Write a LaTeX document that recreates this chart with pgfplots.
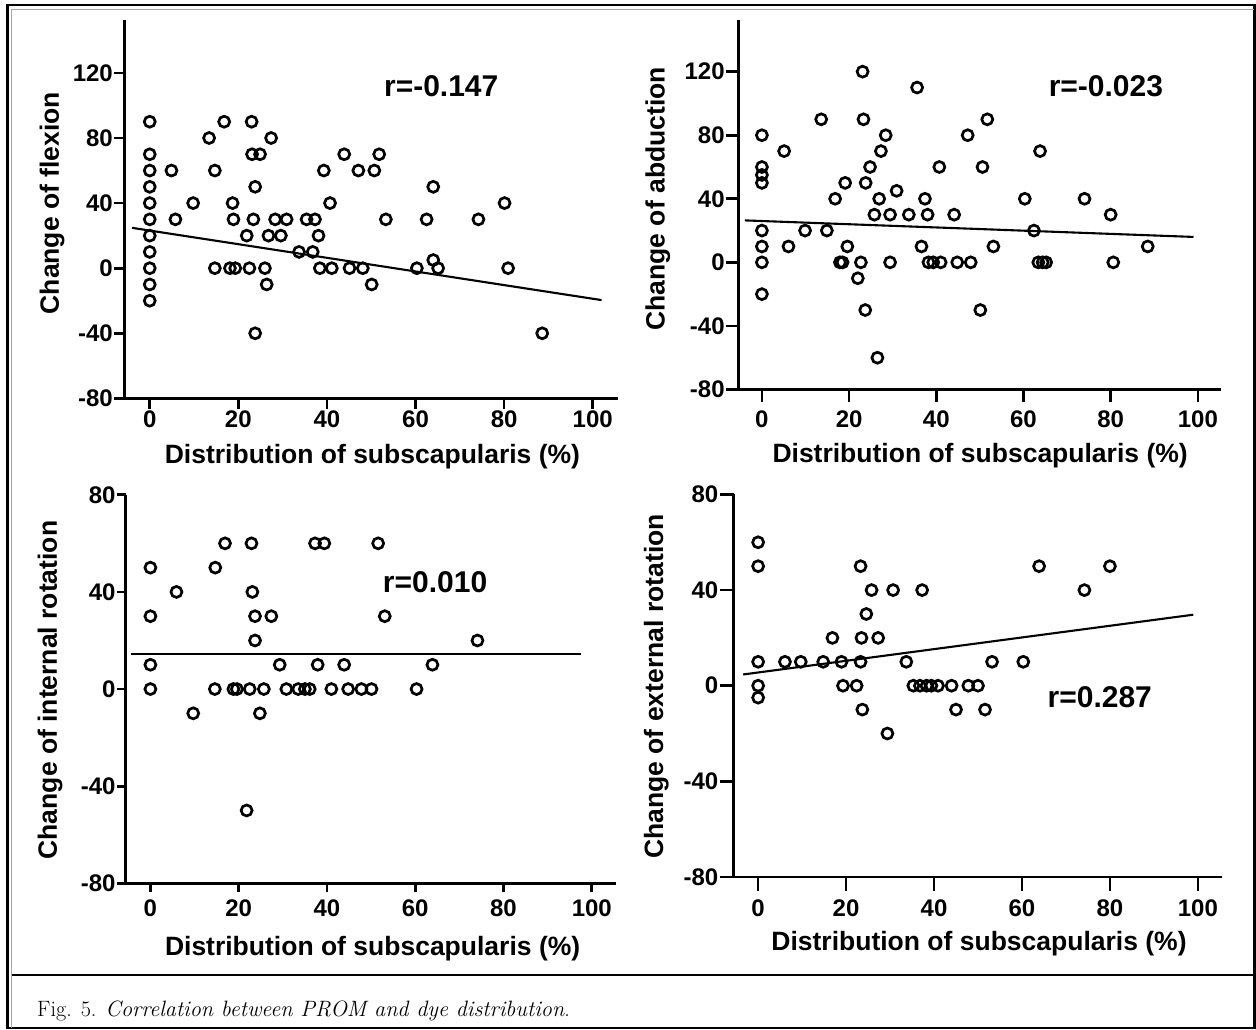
\documentclass[border=0pt]{standalone}
\usepackage{fontspec}
\usepackage{pgfplots}
\pgfplotsset{compat=1.18}
\newfontfamily\arial{Liberation Sans}
\newcommand{\labfont}{\arial\bfseries\fontsize{26.5}{28}\selectfont}
\pgfplotsset{
  prism/.style={
    scale only axis, anchor=south west, clip=false,
    axis lines=left,
    axis line style={line width=2.7pt,-,black},
    every tick/.style={line width=2.7pt,black},
    tick align=outside,
    xtick={0,20,40,60,80,100}, xticklabels={0,20,40,60,80,100},
    tick label style={font=\arial\bfseries\fontsize{24}{24}\selectfont},
    yticklabel style={inner sep=1pt},
    xticklabel style={inner sep=0pt},
    xlabel={Distribution of subscapularis (\%)},
  },
  pts/.style={only marks, mark=o, mark size=5.5pt, mark options={line width=2.7pt, black}},
  reg/.style={no marks, black, line width=2.1pt},
}
\tikzset{rtext/.style={font=\arial\bfseries\fontsize{30}{30}\selectfont, anchor=center}}
\begin{document}
\begin{tikzpicture}[x=1pt,y=1pt]
\useasboundingbox (0,0) rectangle (1256,1029);
% frame
\draw[black, line width=2.4pt] (7.3,1.3) rectangle (1254.3,1024);
\draw[gray!70, line width=1.4pt] (11.7,1.3) -- (11.7,1019.7) -- (1254.3,1019.7);
\draw[black, line width=2.8pt] (11.7,54) -- (1254.3,54);
\node[anchor=base west, inner sep=0pt, font=\fontsize{22.2}{22.2}\selectfont] at (37,12.3) {Fig. 5. \textit{Correlation between PROM and dye distribution}.};

% Panel 1
\begin{axis}[prism, at={(124.5pt,630.6pt)}, width=493.9pt, height=378.4pt,
  xmin=-5.7, xmax=105.8, ymin=-80, ymax=152.5,
  ytick={-80,-40,0,40,80,120}, yticklabels={-80,-40,0,40,80,120},
  major tick length=10.5pt,
  xticklabel style={yshift=-2pt},
  ylabel={Change of flexion},
  every axis y label/.style={at={(axis description cs:-0.1468,0.516)}, rotate=90, anchor=center, font=\labfont},
  every axis x label/.style={at={(axis description cs:0.502,0)}, anchor=base, yshift=-65.3pt, font=\labfont},
]
\addplot[pts] coordinates {
(0,90)(0,70)(0,60)(0,50)(0,40)(0,30)(0,20)(0,10)(0,0)(0,-10)(0,-20)
(16.8,90)(23.0,90)(13.4,80)(27.4,80)(23.1,70)(24.9,70)(43.9,70)(51.8,70)
(4.9,60)(14.7,60)(39.3,60)(47.1,60)(50.7,60)(23.8,50)(64.0,50)
(9.8,40)(18.7,40)(40.7,40)(80.1,40)
(5.8,30)(18.9,30)(23.4,30)(28.3,30)(30.9,30)(35.4,30)(37.3,30)(53.3,30)(62.5,30)(74.2,30)
(21.9,20)(26.8,20)(29.6,20)(38.1,20)
(33.7,10)(36.8,10)(64.0,5)
(14.7,0)(18.1,0)(19.3,0)(22.5,0)(26.0,0)(38.4,0)(41.1,0)(45.1,0)(48.1,0)(60.3,0)(65.1,0)(80.9,0)
(26.4,-10)(50.1,-10)(23.8,-40)(88.6,-40)
};
\addplot[reg] coordinates {(-4,24.8)(102,-19.6)};
\node[rtext] at (axis cs:65.8,111.8) {r=-0.147};
\end{axis}

% Panel 2
\begin{axis}[prism, at={(738.8pt,639.5pt)}, width=482.6pt, height=369.5pt,
  xmin=-5.3, xmax=105.4, ymin=-80, ymax=152.5,
  ytick={-80,-40,0,40,80,120}, yticklabels={-80,-40,0,40,80,120},
  major tick length=13pt,
  xticklabel style={yshift=-8pt},
  ylabel={Change of abduction},
  every axis y label/.style={at={(axis description cs:-0.168,0.516)}, rotate=90, anchor=center, font=\labfont},
  every axis x label/.style={at={(axis description cs:0.5,0)}, anchor=base, yshift=-73.2pt, font=\labfont},
]
\addplot[pts] coordinates {
(23.1,120)(35.6,110)(13.6,90)(23.3,90)(51.7,90)(0,80)(28.4,80)(47.2,80)
(5.1,70)(27.3,70)(63.8,70)(0,60)(24.8,60)(40.7,60)(50.6,60)(0,55)(0,50)(19.1,50)(23.8,50)
(30.9,45)(16.8,40)(26.9,40)(37.4,40)(60.3,40)(74.0,40)
(25.8,30)(29.4,30)(33.7,30)(38.0,30)(44.1,30)(80.0,30)
(0,20)(9.9,20)(14.9,20)(62.4,20)
(0,10)(6.1,10)(19.6,10)(36.6,10)(53.1,10)(88.5,10)
(0,0)(17.9,0)(18.5,0)(22.7,0)(29.4,0)(38.2,0)(39.3,0)(41.0,0)(44.8,0)(47.9,0)(63.4,0)(64.4,0)(65.2,0)(80.6,0)
(22.0,-10)(0,-20)(23.7,-30)(50.1,-30)(26.5,-60)
};
\addplot[reg] coordinates {(-3.9,26.4)(99,16)};
\node[rtext] at (axis cs:78.9,110.8) {r=-0.023};
\end{axis}

% Panel 3
\begin{axis}[prism, at={(125.7pt,145.7pt)}, width=489.9pt, height=388.5pt,
  xmin=-5.6, xmax=105.4, ymin=-80, ymax=80,
  ytick={-80,-40,0,40,80}, yticklabels={-80,-40,0,40,80},
  major tick length=9pt,
  xticklabel style={yshift=-7.7pt},
  ylabel={Change of internal rotation},
  every axis y label/.style={at={(axis description cs:-0.1545,0.4975)}, rotate=90, anchor=center, font=\labfont},
  every axis x label/.style={at={(axis description cs:0.504,0)}, anchor=base, yshift=-71.7pt, font=\labfont},
]
\addplot[pts] coordinates {
(16.9,60)(22.9,60)(37.3,60)(39.4,60)(51.6,60)(0,50)(14.7,50)(5.9,40)(23.1,40)
(0,30)(23.7,30)(27.4,30)(53.1,30)(23.7,20)(74.1,20)
(0,10)(29.3,10)(37.9,10)(43.9,10)(63.9,10)
(0,0)(14.6,0)(18.8,0)(19.6,0)(22.5,0)(25.7,0)(30.8,0)(33.5,0)(35.0,0)(36.1,0)(41.0,0)(44.8,0)(47.8,0)(50.1,0)(60.3,0)
(9.7,-10)(24.8,-10)(21.8,-50)
};
\addplot[reg] coordinates {(-4.3,14.3)(97.5,14.3)};
\node[rtext] at (axis cs:64.5,43.9) {r=0.010};
\end{axis}

% Panel 4
\begin{axis}[prism, at={(733.5pt,152.1pt)}, width=488.1pt, height=382.4pt,
  xmin=-5.6, xmax=105.4, ymin=-80, ymax=80,
  ytick={-80,-40,0,40,80}, yticklabels={-80,-40,0,40,80},
  major tick length=14pt,
  xticklabel style={yshift=-9pt},
  ylabel={Change of external rotation},
  every axis y label/.style={at={(axis description cs:-0.158,0.498)}, rotate=90, anchor=center, font=\labfont},
  every axis x label/.style={at={(axis description cs:0.503,0)}, anchor=base, yshift=-73.5pt, font=\labfont},
]
\addplot[pts] coordinates {
(0,60)(0,50)(23.3,50)(63.9,50)(80.0,50)(25.8,40)(30.7,40)(37.3,40)(74.2,40)(24.6,30)
(16.9,20)(23.5,20)(27.3,20)
(0,10)(6.1,10)(9.7,10)(14.8,10)(18.96,10)(23.3,10)(33.7,10)(53.2,10)(60.3,10)
(0,0)(19.3,0)(22.4,0)(35.3,0)(36.8,0)(38.3,0)(39.4,0)(40.9,0)(44.0,0)(47.8,0)(50.0,0)
(0,-5)(23.7,-10)(45.0,-10)(51.6,-10)(29.4,-20)
};
\addplot[reg] coordinates {(-3.4,4.7)(98.95,29.7)};
\node[rtext] at (axis cs:77.7,-5.0) {r=0.287};
\end{axis}
\end{tikzpicture}
\end{document}
